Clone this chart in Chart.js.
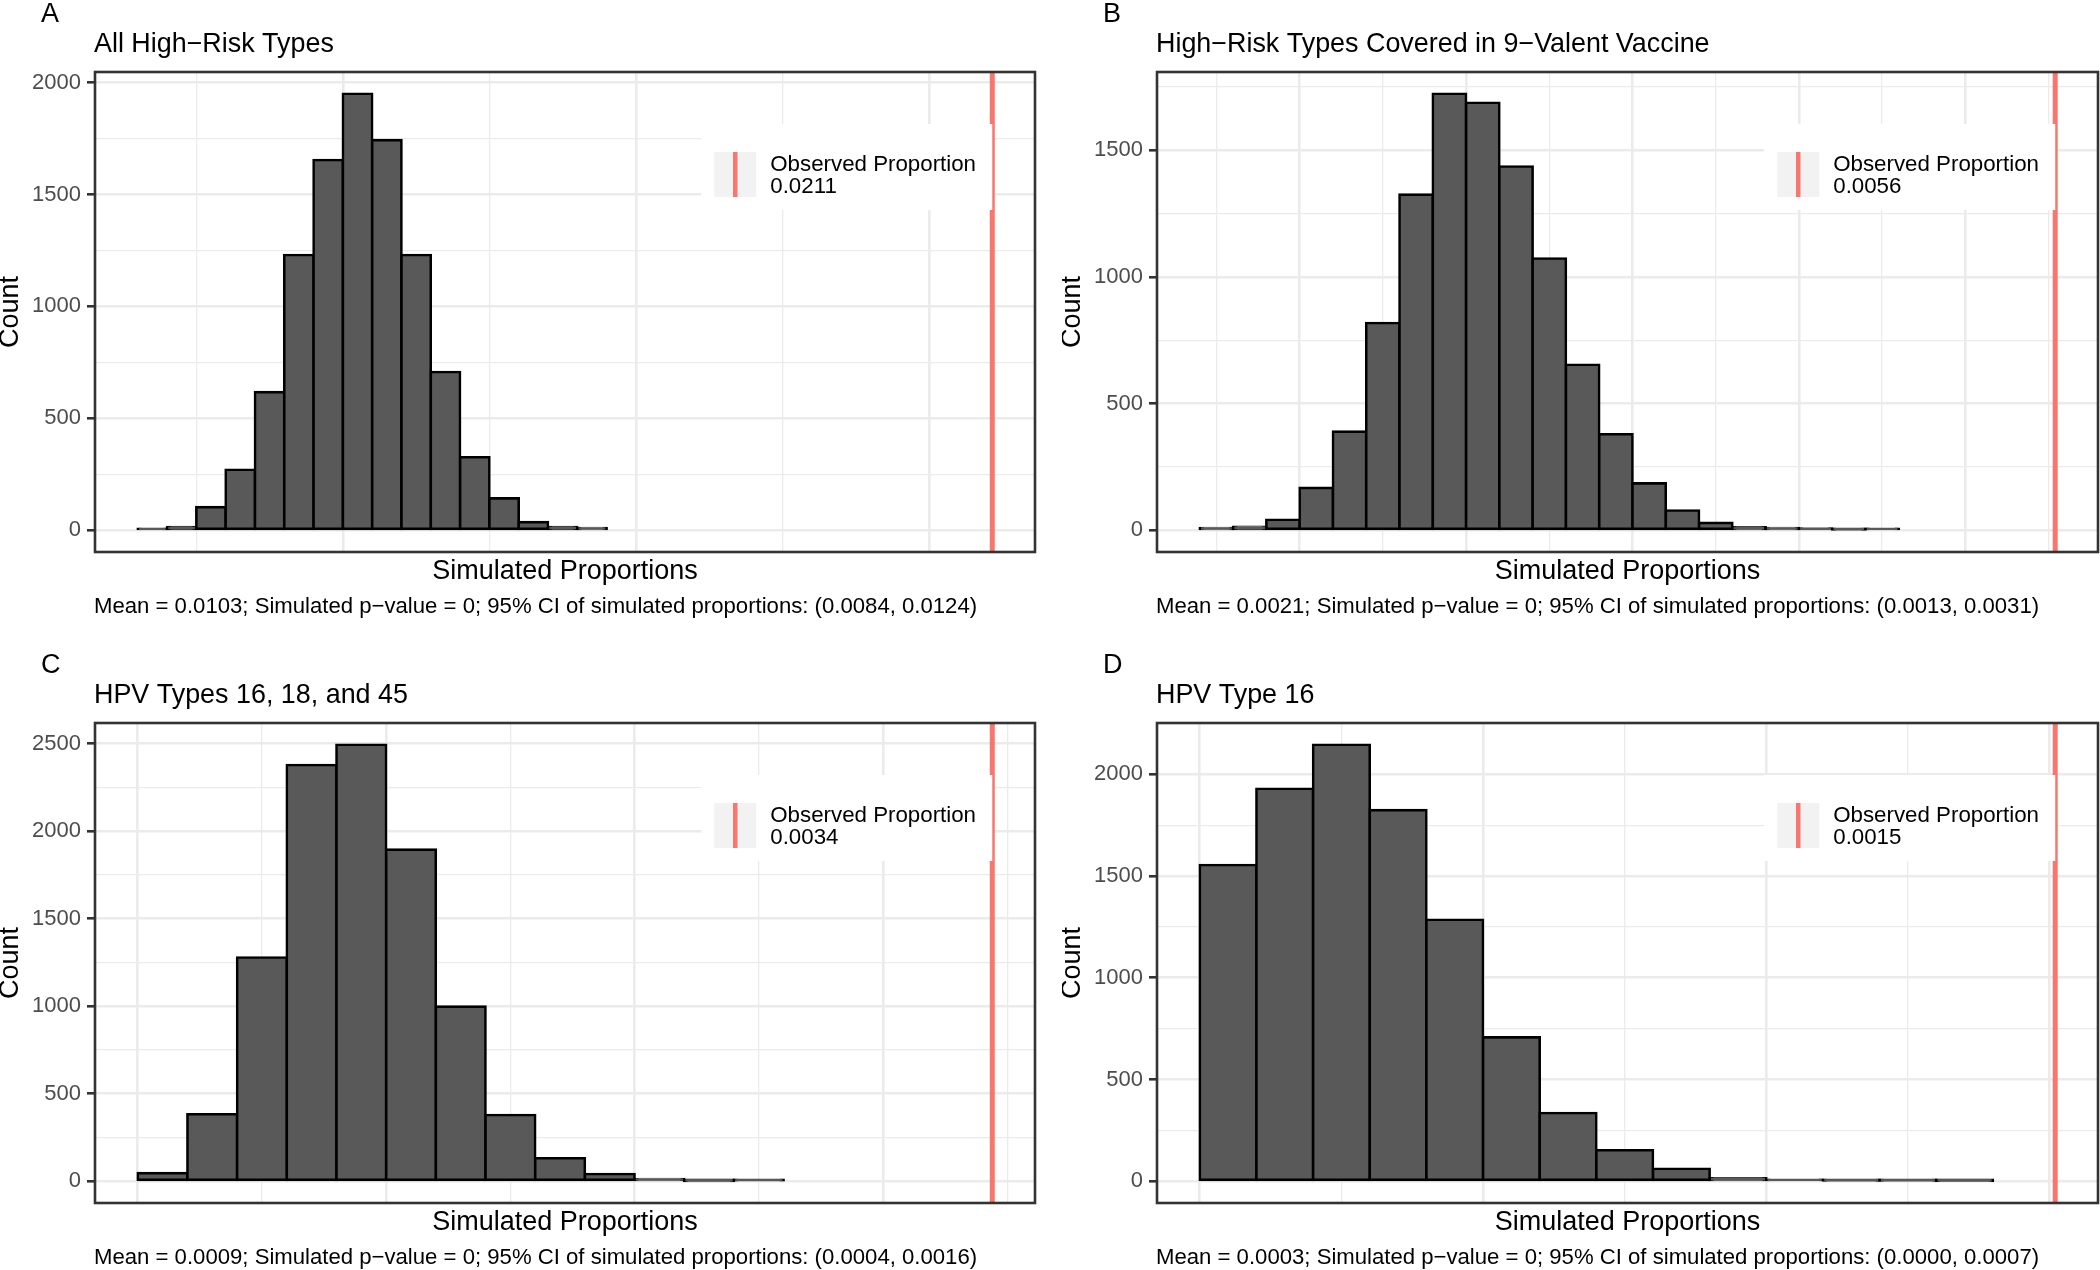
<!DOCTYPE html>
<html>
<head>
<meta charset="utf-8">
<script src="https://cdn.jsdelivr.net/npm/chart.js@4.4.1/dist/chart.umd.min.js"></script>
<style>
  html, body { margin: 0; padding: 0; background: #fff; overflow: hidden; }
  canvas { position: absolute; }
</style>
</head>
<body>
<canvas id="panelA" width="1050" height="619" style="left:0px;top:0px"></canvas>
<canvas id="panelB" width="1038" height="619" style="left:1062px;top:0px"></canvas>
<canvas id="panelC" width="1050" height="619" style="left:0px;top:651px"></canvas>
<canvas id="panelD" width="1038" height="619" style="left:1062px;top:651px"></canvas>
<script>
// ---- data ----
const panelLetters = ['A', 'B', 'C', 'D'];
const panelTitles = [
  'All High\u2212Risk Types',
  'High\u2212Risk Types Covered in 9\u2212Valent Vaccine',
  'HPV Types 16, 18, and 45',
  'HPV Type 16'
];
const captions = [
  'Mean = 0.0103; Simulated p\u2212value = 0; 95% CI of simulated proportions: (0.0084, 0.0124)',
  'Mean = 0.0021; Simulated p\u2212value = 0; 95% CI of simulated proportions: (0.0013, 0.0031)',
  'Mean = 0.0009; Simulated p\u2212value = 0; 95% CI of simulated proportions: (0.0004, 0.0016)',
  'Mean = 0.0003; Simulated p\u2212value = 0; 95% CI of simulated proportions: (0.0000, 0.0007)'
];
const observedLabels = ['0.0211', '0.0056', '0.0034', '0.0015'];
const observedValues = [0.02108, 0.00554, 0.00344, 0.00151];

const binStarts = [0.0065, 0.0004, 0, 0];
const binWidths = [0.0005, 0.0002, 0.0002, 0.0001];
const countsA = [5, 14, 103, 270, 617, 1230, 1654, 1950, 1743, 1230, 707, 326, 142, 36, 14, 9];
const countsB = [8, 13, 41, 167, 389, 818, 1325, 1723, 1688, 1436, 1073, 653, 379, 185, 78, 29, 11, 8, 6, 3, 5];
const countsC = [46, 382, 1278, 2378, 2493, 1894, 997, 378, 131, 41, 12, 2, 5];
const countsD = [1554, 1929, 2145, 1824, 1285, 707, 335, 152, 61, 14, 6, 4, 4, 2];
const allCounts = [countsA, countsB, countsC, countsD];

const yTickLabels = [
  [0, 500, 1000, 1500, 2000],
  [0, 500, 1000, 1500],
  [0, 500, 1000, 1500, 2000, 2500],
  [0, 500, 1000, 1500, 2000]
];
// x breaks (labels are blanked in the figure, only grid lines remain)
const xBreaks = [
  [0.005, 0.010, 0.015, 0.020],
  [0.001, 0.002, 0.003, 0.004, 0.005],
  [0, 0.001, 0.002, 0.003],
  [0, 0.0005, 0.001, 0.0015]
];

// ---- layout / style ----
const FONT = "'Liberation Sans', Arial, sans-serif";
const PLOT_LEFT = 95, PLOT_TOP = 72, PLOT_BOTTOM = 552;
const plotRights = [1035, 1036, 1035, 1036];
const RED = '#F8766D';
const GRID = '#EBEBEB';
const MAJOR_W = 2.6, MINOR_W = 1.3;

Chart.defaults.font.family = FONT;

// major + minor (midpoint) grid positions inside the axis range
function gridTicks(majors, lo, hi) {
  const step = majors[1] - majors[0];
  const list = majors.map(v => ({ value: v, minor: false }));
  for (let v = majors[0] - step / 2; v <= majors[majors.length - 1] + step; v += step) {
    list.push({ value: v, minor: true });
  }
  return list.filter(t => t.value > lo && t.value < hi).sort((a, b) => a.value - b.value);
}

const ggDecor = {
  id: 'ggDecor',
  afterDatasetsDraw(chart, args, opts) {
    const ctx = chart.ctx;
    const area = chart.chartArea;
    const rx = chart.scales.x.getPixelForValue(observedValues[opts.panel]);
    const left = rx - 291, top = area.top + 52;
    ctx.save();
    ctx.fillStyle = '#FFFFFF';
    ctx.fillRect(left, top, rx - left, 86);
    ctx.fillStyle = '#F2F2F2';
    ctx.fillRect(left + 13, top + 28, 42, 45);
    ctx.strokeStyle = RED;
    ctx.lineWidth = 4.5;
    ctx.beginPath();
    ctx.moveTo(left + 34, top + 28);
    ctx.lineTo(left + 34, top + 73);
    ctx.stroke();
    ctx.fillStyle = '#000000';
    ctx.font = '22.3px ' + FONT;
    ctx.textAlign = 'left';
    ctx.textBaseline = 'alphabetic';
    ctx.fillText('Observed Proportion', left + 69, top + 47);
    ctx.fillText(observedLabels[opts.panel], left + 69, top + 69);
    ctx.restore();
  },
  afterDraw(chart, args, opts) {
    const ctx = chart.ctx;
    const area = chart.chartArea;
    ctx.save();
    ctx.strokeStyle = '#333333';
    ctx.lineWidth = MAJOR_W;
    ctx.strokeRect(area.left, area.top, area.right - area.left, area.bottom - area.top);
    ctx.fillStyle = '#000000';
    ctx.textAlign = 'left';
    ctx.textBaseline = 'alphabetic';
    ctx.font = '27px ' + FONT;
    ctx.fillText(panelLetters[opts.panel], 41, 22);
    ctx.font = '26.9px ' + FONT;
    ctx.fillText(panelTitles[opts.panel], area.left - 1, 52);
    ctx.font = '22.15px ' + FONT;
    ctx.fillText(captions[opts.panel], area.left - 1, 613);
    ctx.restore();
  }
};

function makePanel(canvasId, p) {
  const canvas = document.getElementById(canvasId);
  const counts = allCounts[p];
  const bars = counts.map((c, i) => ({ x: binStarts[p] + binWidths[p] * (i + 0.5), y: c }));
  const lo = binStarts[p], hi = observedValues[p];
  const xMin = lo - 0.05 * (hi - lo), xMax = hi + 0.05 * (hi - lo);
  const top = Math.max(...counts);
  const yMin = -0.05 * top, yMax = 1.05 * top;
  const xTicks = gridTicks(xBreaks[p], xMin, xMax);
  const yTicks = gridTicks(yTickLabels[p], yMin, yMax);
  const isMinor = c => c.tick && c.tick.minor;

  new Chart(canvas, {
    type: 'bar',
    data: {
      datasets: [
        {
          type: 'line',
          data: [{ x: observedValues[p], y: yMin }, { x: observedValues[p], y: yMax }],
          borderColor: RED,
          borderWidth: 5,
          pointRadius: 0,
          fill: false,
          order: 0
        },
        {
          type: 'bar',
          data: bars,
          backgroundColor: '#595959',
          borderColor: '#000000',
          borderWidth: 2.6,
          borderSkipped: false,
          inflateAmount: 1.3,
          barPercentage: 1,
          categoryPercentage: 1,
          order: 1
        }
      ]
    },
    options: {
      responsive: false,
      animation: false,
      events: [],
      devicePixelRatio: 1,
      layout: {
        autoPadding: false,
        padding: { left: 0, top: PLOT_TOP, right: canvas.width - plotRights[p], bottom: 0 }
      },
      plugins: {
        legend: { display: false },
        tooltip: { enabled: false },
        ggDecor: { panel: p }
      },
      scales: {
        x: {
          type: 'linear',
          min: xMin,
          max: xMax,
          offset: false,
          afterBuildTicks: s => { s.ticks = xTicks.map(t => ({ ...t })); },
          afterFit: s => { s.height = canvas.height - PLOT_BOTTOM; },
          grid: {
            offset: false,
            color: GRID,
            lineWidth: c => isMinor(c) ? MINOR_W : MAJOR_W,
            drawTicks: false
          },
          border: { display: false },
          ticks: { display: false },
          title: {
            display: true,
            text: 'Simulated Proportions',
            color: '#000000',
            font: { size: 27 },
            padding: { top: 0, bottom: 31 }
          }
        },
        y: {
          type: 'linear',
          min: yMin,
          max: yMax,
          afterBuildTicks: s => { s.ticks = yTicks.map(t => ({ ...t })); },
          afterFit: s => { s.width = PLOT_LEFT; },
          grid: {
            color: GRID,
            lineWidth: c => isMinor(c) ? MINOR_W : MAJOR_W,
            tickLength: 8,
            tickColor: c => isMinor(c) ? 'rgba(0,0,0,0)' : '#333333',
            tickWidth: MAJOR_W
          },
          border: { display: false },
          ticks: {
            autoSkip: false,
            padding: 6,
            color: '#4D4D4D',
            font: { size: 22 },
            callback: (v, i, t) => t[i].minor ? '' : String(v)
          },
          title: {
            display: true,
            text: 'Count',
            color: '#000000',
            font: { size: 27, lineHeight: 0.8 },
            padding: 0
          }
        }
      }
    },
    plugins: [ggDecor]
  });
}

makePanel('panelA', 0);
makePanel('panelB', 1);
makePanel('panelC', 2);
makePanel('panelD', 3);
</script>
</body>
</html>
